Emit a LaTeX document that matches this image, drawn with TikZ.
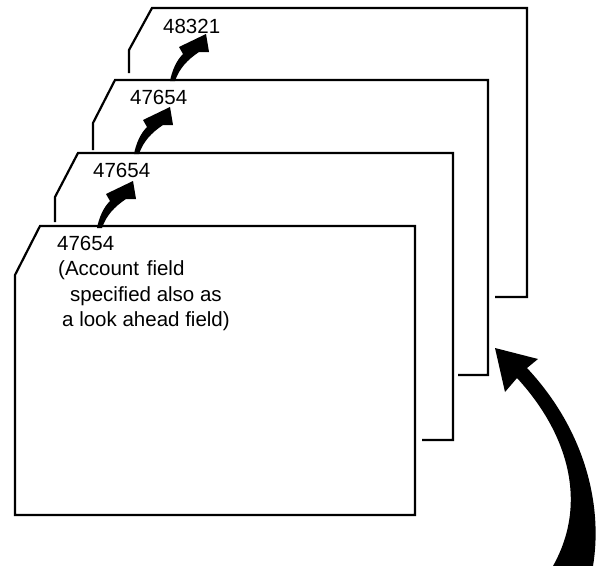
\documentclass[tikz,border=0pt]{standalone}
\usepackage{fontspec}
\setmainfont{Liberation Sans}
\begin{document}
\begin{tikzpicture}[x=1pt,y=-1pt,
  card/.style={line width=2.2pt, line join=miter},
  lbl/.style={inner sep=0pt, anchor=base west, font=\fontsize{20.5}{24}\selectfont},
  fat/.style={fill=black, draw=none}]
\useasboundingbox (0,0) rectangle (597,565);
% cards (back to front)
\draw[card] (129,73) -- (129,50) -- (152,8) -- (527,8) -- (527,297) -- (495,297);
\draw[card] (93,150) -- (93,123) -- (115,80) -- (488,80) -- (488,375) -- (458,375);
\draw[card] (55,222) -- (55,197) -- (78,153) -- (453,153) -- (453,440) -- (422,440);
\draw[card] (40,226) -- (415,226) -- (415,515) -- (15,515) -- (15,275) -- cycle;
% texts
\node[lbl] (t4) at (163,33) {48321};
\node[lbl] (t3) at (130,104) {47654};
\node[lbl] (t2) at (93,177) {47654};
\node[lbl] (t1) at (57,250) {47654};
\node[lbl] (l1) at (58,275.5) {(Account\hspace{0.1em} field};
\node[lbl] (l2) at (70,301) {specified also as};
\node[lbl] (l3) at (62,326.5) {a look ahead field)};
% small fat arrows
\coordinate (b1) at (98,228);
\coordinate (b2) at (135,154);
\coordinate (b3) at (171,81);
\foreach \b in {b1,b2,b3}{
  \fill[fat, shift={(\b)}] (-1,0) .. controls (1,-10) and (5,-20) .. (12,-27)
    -- (8,-34) -- (35,-47) -- (38,-29) -- (28,-29)
    .. controls (16,-21) and (8,-12) .. (4,0) -- cycle;
}
% big arrow
\coordinate (tip) at (495,348);
\fill[fat] (593,566) .. controls (603,505) and (585,430) .. (527,368)
  -- (538,359) -- (tip) -- (505,392) -- (517,378)
  .. controls (565,430) and (590,500) .. (553,566) -- cycle;
\end{tikzpicture}
\end{document}
